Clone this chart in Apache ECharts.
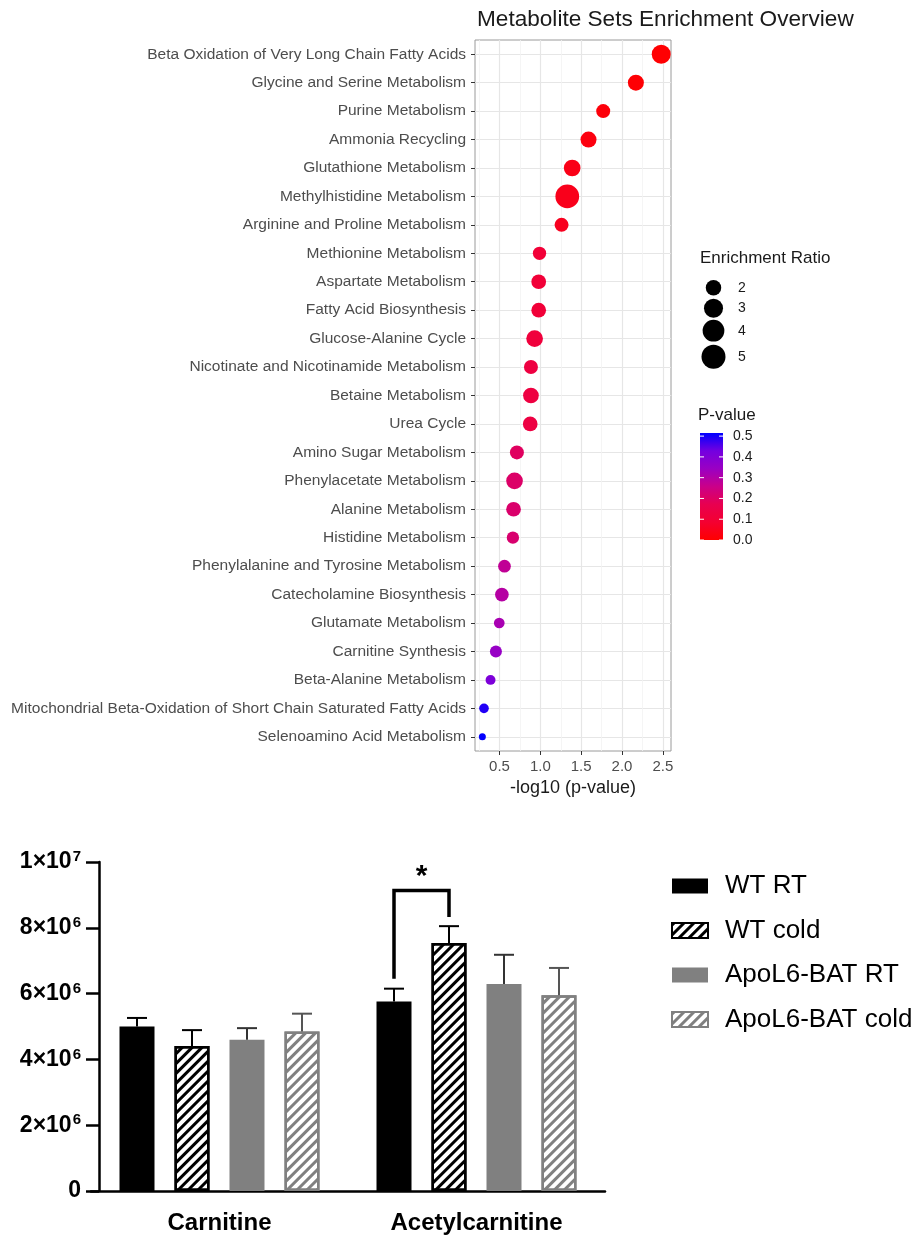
<!DOCTYPE html>
<html>
<head>
<meta charset="utf-8">
<script src="https://cdn.jsdelivr.net/npm/echarts@6/dist/echarts.min.js"></script>
<style>
  html, body { margin: 0; padding: 0; background: #fff; }
  #main { width: 922px; height: 1236px; }
</style>
</head>
<body>
<div id="main"></div>
<script>
// top panel: enrichment overview
const pathways = [
  "Beta Oxidation of Very Long Chain Fatty Acids",
  "Glycine and Serine Metabolism",
  "Purine Metabolism",
  "Ammonia Recycling",
  "Glutathione Metabolism",
  "Methylhistidine Metabolism",
  "Arginine and Proline Metabolism",
  "Methionine Metabolism",
  "Aspartate Metabolism",
  "Fatty Acid Biosynthesis",
  "Glucose-Alanine Cycle",
  "Nicotinate and Nicotinamide Metabolism",
  "Betaine Metabolism",
  "Urea Cycle",
  "Amino Sugar Metabolism",
  "Phenylacetate Metabolism",
  "Alanine Metabolism",
  "Histidine Metabolism",
  "Phenylalanine and Tyrosine Metabolism",
  "Catecholamine Biosynthesis",
  "Glutamate Metabolism",
  "Carnitine Synthesis",
  "Beta-Alanine Metabolism",
  "Mitochondrial Beta-Oxidation of Short Chain Saturated Fatty Acids",
  "Selenoamino Acid Metabolism"
];
const negLogP = [2.48, 2.17, 1.77, 1.59, 1.39, 1.33, 1.26, 0.99, 0.98, 0.98, 0.93, 0.885, 0.885, 0.876,
  0.713, 0.684, 0.672, 0.664, 0.561, 0.529, 0.497, 0.456, 0.39, 0.31, 0.29];
const enrichRatio = [2.99, 2.12, 1.68, 2.12, 2.3, 4.86, 1.68, 1.55, 1.82, 1.82, 2.3, 1.68, 2.05, 1.82,
  1.68, 2.3, 1.82, 1.39, 1.45, 1.62, 1.19, 1.35, 1.12, 1.1, 1.0];
const xTicks = [0.5, 1.0, 1.5, 2.0, 2.5];
const xMinor = [0.25, 0.75, 1.25, 1.75, 2.25];
const sizeLegend = [2, 3, 4, 5];
const pTicks = [0.0, 0.1, 0.2, 0.3, 0.4, 0.5];

// bottom panel: carnitine bars
const metabolites = ["Carnitine", "Acetylcarnitine"];
const groups = ["WT RT", "WT cold", "ApoL6-BAT RT", "ApoL6-BAT cold"];
const means = [
  [5.0e6, 5.76e6],
  [4.41e6, 7.54e6],
  [4.6e6, 6.29e6],
  [4.85e6, 5.95e6]
];
const sems = [
  [0.26e6, 0.39e6],
  [0.48e6, 0.51e6],
  [0.35e6, 0.89e6],
  [0.54e6, 0.83e6]
];
const yTickExp = { 0: "0", 2e6: "2×10|6", 4e6: "4×10|6", 6e6: "6×10|6", 8e6: "8×10|6", 1e7: "1×10|7" };
// significance bracket: [metabolite, group a, group b, left foot, top, right foot]
const sigBracket = [1, 0, 1, 6.45e6, 9.13e6, 8.33e6];

const FONT = "Liberation Sans, Arial, sans-serif";
const pColors = ["#FF0000", "#F40031", "#E80050", "#CA0089", "#9A00C3", "#7300E0", "#0000FF"];
const pMax = 0.515;

function dotSize(er) {
  return 7 + 17 * Math.sqrt(Math.max(er - 1, 0) / 4);
}

const BAR_W = 35, BAR_STEP = 55;
const barColors = ["#000", "#fff", "#808080", "#fff"];
const edgeColors = ["#000", "#000", "#808080", "#808080"];
const errColors = ["#000", "#000", "#333", "#555"];

const chart = echarts.init(document.getElementById("main"));

const scatterData = pathways.map(function (name, i) {
  return [negLogP[i], name, Math.pow(10, -negLogP[i]), enrichRatio[i]];
});

// legend graphics for the top panel
const graphics = [];
graphics.push({
  type: "text", left: 700, top: 250,
  style: { text: "Enrichment Ratio", font: "17px " + FONT, fill: "#1a1a1a" }
});
const sizeY = [287.7, 308.3, 330.7, 356.7];
sizeLegend.forEach(function (v, i) {
  graphics.push({
    type: "circle",
    shape: { cx: 713.5, cy: sizeY[i], r: dotSize(v) / 2 },
    style: { fill: "#000" }
  });
  graphics.push({
    type: "text", x: 738, y: sizeY[i],
    style: { text: String(v), font: "14px " + FONT, fill: "#1a1a1a", verticalAlign: "middle" }
  });
});
graphics.push({
  type: "text", left: 698, top: 407,
  style: { text: "P-value", font: "17px " + FONT, fill: "#1a1a1a" }
});
const barTop = 433, barH = 107, barX = 700, barWd = 23;
graphics.push({
  type: "rect",
  shape: { x: barX, y: barTop, width: barWd, height: barH },
  style: {
    fill: new echarts.graphic.LinearGradient(0, 1, 0, 0, pColors.map(function (c, i) {
      return { offset: i / (pColors.length - 1), color: c };
    }))
  }
});
pTicks.forEach(function (v) {
  const y = barTop + barH - v / pMax * barH;
  graphics.push({
    type: "line", shape: { x1: barX, y1: y, x2: barX + 4, y2: y },
    style: { stroke: "#fff", lineWidth: 1 }
  });
  graphics.push({
    type: "line", shape: { x1: barX + barWd - 4, y1: y, x2: barX + barWd, y2: y },
    style: { stroke: "#fff", lineWidth: 1 }
  });
  graphics.push({
    type: "text", x: 733, y: y,
    style: { text: v.toFixed(1), font: "14px " + FONT, fill: "#1a1a1a", verticalAlign: "middle" }
  });
});

const option = {
  animation: false,
  backgroundColor: "#fff",
  title: {
    text: "Metabolite Sets Enrichment Overview",
    left: 472, top: 3,
    textStyle: { fontFamily: FONT, fontSize: 22.6, fontWeight: "normal", color: "#1a1a1a" }
  },
  graphic: graphics,
  legend: {
    data: groups,
    orient: "vertical",
    left: 666, top: 868,
    itemWidth: 36, itemHeight: 15, itemGap: 18.5,
    icon: "rect",
    textStyle: { fontFamily: FONT, fontSize: 26, color: "#000", padding: [0, 0, 0, 12] }
  },
  visualMap: {
    show: false,
    type: "continuous",
    seriesIndex: 0,
    dimension: 2,
    min: 0, max: pMax,
    inRange: { color: pColors }
  },
  grid: [
    { left: 475, right: 251, top: 40, bottom: 485, show: true, borderColor: "#9a9a9a", borderWidth: 1, backgroundColor: "#fff" },
    { left: 91, right: 317, top: 862, bottom: 45 }
  ],
  xAxis: [
    {
      gridIndex: 0, type: "value", min: 0.2, max: 2.6,
      name: "-log10 (p-value)", nameLocation: "middle", nameGap: 28,
      nameTextStyle: { fontFamily: FONT, fontSize: 18, color: "#1a1a1a" },
      axisLine: { show: false },
      axisTick: { show: true, length: 4, customValues: xTicks, lineStyle: { color: "#333" } },
      axisLabel: {
        customValues: xTicks, margin: 8, fontFamily: FONT, fontSize: 15, color: "#4d4d4d",
        formatter: function (v) { return v.toFixed(1); }
      },
      splitLine: { show: true, lineStyle: { color: "#e6e6e6", width: 1.2 } }
    },
    {
      gridIndex: 1, type: "category", data: metabolites,
      axisLine: { lineStyle: { color: "#000", width: 2.5 } },
      axisTick: { alignWithLabel: true, length: 11, lineStyle: { color: "#000", width: 2.5 } },
      axisLabel: { margin: 20, fontFamily: FONT, fontSize: 24, fontWeight: "bold", color: "#000" }
    }
  ],
  yAxis: [
    {
      gridIndex: 0, type: "category", data: pathways, inverse: true,
      axisLine: { show: false },
      axisTick: { show: true, alignWithLabel: true, length: 4, lineStyle: { color: "#333" } },
      axisLabel: { margin: 9, fontFamily: FONT, fontSize: 15.5, color: "#4d4d4d" },
      splitLine: { show: true, alignWithLabel: true, lineStyle: { color: "#e6e6e6", width: 1.2 } }
    },
    {
      gridIndex: 1, type: "value", min: 0, max: 1e7, interval: 2e6, offset: -8,
      axisLine: { show: true, lineStyle: { color: "#000", width: 2.5 } },
      axisTick: { show: true, length: 13, lineStyle: { color: "#000", width: 2.5 } },
      splitLine: { show: false },
      axisLabel: {
        margin: 18,
        formatter: function (v) {
          const s = yTickExp[v];
          if (!s) return "";
          const parts = s.split("|");
          return parts.length > 1 ? "{b|" + parts[0] + "}{s|" + parts[1] + "}" : "{b|" + parts[0] + "}";
        },
        rich: {
          b: { fontFamily: FONT, fontSize: 23, fontWeight: "bold", color: "#000" },
          s: { fontFamily: FONT, fontSize: 15, fontWeight: "bold", color: "#000", verticalAlign: "top", padding: [0, 0, 10, 1] }
        }
      }
    }
  ],
  series: [
    {
      type: "scatter",
      xAxisIndex: 0, yAxisIndex: 0,
      data: scatterData,
      symbolSize: function (val) { return dotSize(val[3]); },
      itemStyle: { opacity: 1 },
      markLine: {
        silent: true, symbol: "none", label: { show: false },
        lineStyle: { color: "#f2f2f2", width: 0.8, type: "solid" },
        data: xMinor.map(function (v) { return { xAxis: v }; }),
        z: 0
      },
      z: 5
    }
  ]
};

groups.forEach(function (g, k) {
  const hatched = k % 2 === 1;
  option.series.push({
    name: g,
    type: "bar",
    xAxisIndex: 1, yAxisIndex: 1,
    barWidth: BAR_W,
    barGap: ((BAR_STEP - BAR_W) / BAR_W * 100).toFixed(2) + "%",
    data: means[k],
    itemStyle: {
      color: barColors[k],
      borderColor: edgeColors[k],
      borderWidth: hatched ? 2.5 : 0,
      decal: hatched ? {
        symbol: "rect", symbolSize: 1, color: edgeColors[k],
        dashArrayX: [1, 0], dashArrayY: [3, 4], rotation: -Math.PI / 4
      } : null
    }
  });
});

// error bars (upper only)
const errData = [];
groups.forEach(function (g, k) {
  metabolites.forEach(function (m, j) {
    errData.push([j, k, means[k][j], sems[k][j]]);
  });
});
option.series.push({
  type: "custom",
  xAxisIndex: 1, yAxisIndex: 1,
  data: errData,
  encode: { x: 0, y: 2 },
  renderItem: function (params, api) {
    const k = api.value(1);
    const base = api.coord([api.value(0), api.value(2)]);
    const top = api.coord([api.value(0), api.value(2) + api.value(3)]);
    const x = base[0] + (k - 1.5) * BAR_STEP;
    const st = { stroke: errColors[k], lineWidth: 2 };
    return {
      type: "group",
      children: [
        { type: "line", shape: { x1: x, y1: base[1], x2: x, y2: top[1] }, style: st },
        { type: "line", shape: { x1: x - 10, y1: top[1], x2: x + 10, y2: top[1] }, style: st }
      ]
    };
  },
  z: 3
});

// significance bracket
option.series.push({
  type: "custom",
  xAxisIndex: 1, yAxisIndex: 1,
  data: [sigBracket],
  encode: { x: 0, y: 4 },
  renderItem: function (params, api) {
    const c = api.coord([api.value(0), api.value(4)]);
    const xa = c[0] + (api.value(1) - 1.5) * BAR_STEP;
    const xb = c[0] + (api.value(2) - 1.5) * BAR_STEP;
    const yl = api.coord([api.value(0), api.value(3)])[1];
    const yr = api.coord([api.value(0), api.value(5)])[1];
    return {
      type: "group",
      children: [
        {
          type: "polyline",
          shape: { points: [[xa, yl], [xa, c[1]], [xb, c[1]], [xb, yr]] },
          style: { stroke: "#000", lineWidth: 3.5, fill: null }
        },
        {
          type: "text",
          style: {
            x: (xa + xb) / 2, y: c[1] + 1, text: "*",
            font: "bold 30px " + FONT, fill: "#000", align: "center", verticalAlign: "bottom"
          }
        }
      ]
    };
  },
  z: 4
});

chart.setOption(option);
</script>
</body>
</html>
